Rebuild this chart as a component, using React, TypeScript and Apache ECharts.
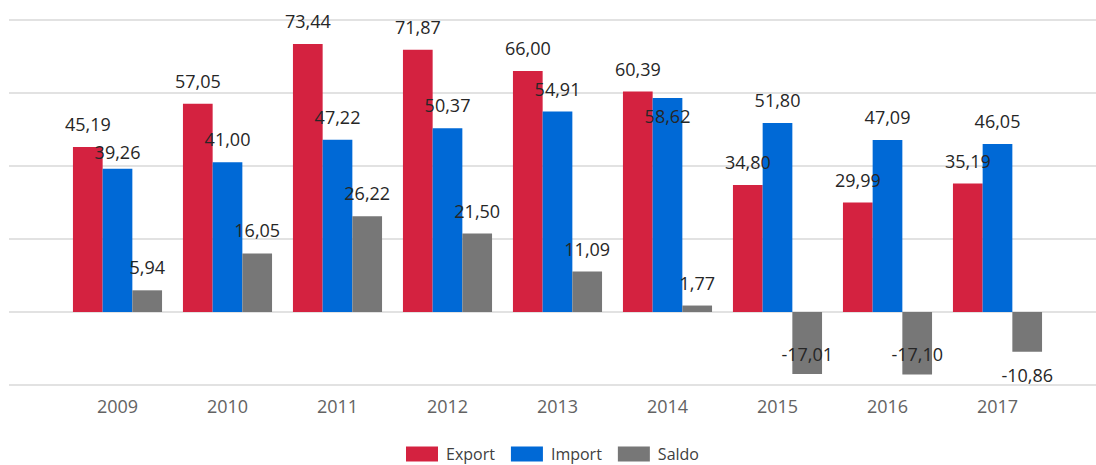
import React, { useEffect, useRef } from "react";
import * as echarts from "echarts";

const years = ["2009", "2010", "2011", "2012", "2013", "2014", "2015", "2016", "2017"];
const exportVals = [45.19, 57.05, 73.44, 71.87, 66.0, 60.39, 34.8, 29.99, 35.19];
const importVals = [39.26, 41.0, 47.22, 50.37, 54.91, 58.62, 51.8, 47.09, 46.05];
const saldoVals = [5.94, 16.05, 26.22, 21.5, 11.09, 1.77, -17.01, -17.1, -10.86];

// label vertical nudges (px) where the original moved labels to avoid overlaps
const importLabelShift: Record<number, number> = { 0: 6, 5: 41 };
const saldoLabelShift: Record<number, number> = { 6: -43, 7: -43 };

const FONT = "'Open Sans', 'Noto Sans', sans-serif";

function fmt(v: number) {
  return v.toFixed(2).replace(".", ",");
}

function buildData(vals: number[], shift: Record<number, number>) {
  return vals.map((v, i) => ({
    value: v,
    label: {
      position: v >= 0 ? "top" : "bottom",
      offset: [0, shift[i] || 0],
    },
  }));
}

export default function App() {
  const ref = useRef<HTMLDivElement>(null);
  useEffect(() => {
    if (!ref.current) return;
    const chart = echarts.init(ref.current, undefined, { renderer: "svg" });
    const labelCommon = {
      show: true,
      distance: 14,
      fontFamily: FONT,
      fontSize: 18,
      color: "#262626",
      formatter: (p: any) => fmt(p.value),
    };
    chart.setOption({
      animation: false,
      backgroundColor: "#ffffff",
      textStyle: { fontFamily: FONT },
      grid: [
        { left: 9, right: 0, top: 20, bottom: 80 },
        { left: 62.5, width: 990, top: 20, bottom: 80 },
      ],
      xAxis: [
        { type: "value", gridIndex: 0, show: false, min: 0, max: 1 },
        {
          type: "category",
          gridIndex: 1,
          data: years,
          axisLine: { show: false },
          axisTick: { show: false },
          axisLabel: {
            margin: 12,
            fontFamily: FONT,
            fontSize: 18,
            color: "#636363",
          },
        },
      ],
      yAxis: [
        {
          type: "value",
          gridIndex: 0,
          min: -20,
          max: 80,
          interval: 20,
          axisLabel: { show: false },
          axisLine: { show: false },
          axisTick: { show: false },
          splitLine: { show: true, lineStyle: { color: "#d9d9d9", width: 1.5 } },
        },
        {
          type: "value",
          gridIndex: 1,
          min: -20,
          max: 80,
          interval: 20,
          show: false,
          splitLine: { show: false },
        },
      ],
      legend: {
        top: 445,
        left: 406,
        padding: 0,
        itemWidth: 32,
        itemHeight: 15,
        itemGap: 16,
        icon: "rect",
        textStyle: {
          fontFamily: FONT,
          fontSize: 16,
          lineHeight: 18,
          color: "#404040",
          padding: [0, 0, 0, 3],
        },
        data: ["Export", "Import", "Saldo"],
      },
      series: [
        {
          name: "Export",
          type: "bar",
          xAxisIndex: 1,
          yAxisIndex: 1,
          data: buildData(exportVals, {}),
          itemStyle: { color: "#D42240" },
          barGap: "0%",
          barCategoryGap: "19%",
          label: labelCommon,
        },
        {
          name: "Import",
          type: "bar",
          xAxisIndex: 1,
          yAxisIndex: 1,
          data: buildData(importVals, importLabelShift),
          itemStyle: { color: "#0069D6" },
          barGap: "0%",
          barCategoryGap: "19%",
          label: labelCommon,
        },
        {
          name: "Saldo",
          type: "bar",
          xAxisIndex: 1,
          yAxisIndex: 1,
          data: buildData(saldoVals, saldoLabelShift),
          itemStyle: { color: "#777777" },
          barGap: "0%",
          barCategoryGap: "19%",
          label: labelCommon,
        },
      ],
    });
    return () => chart.dispose();
  }, []);
  return (
    <div
      ref={ref}
      style={{ position: "fixed", left: 0, top: 0, width: 1096, height: 465 }}
    />
  );
}
